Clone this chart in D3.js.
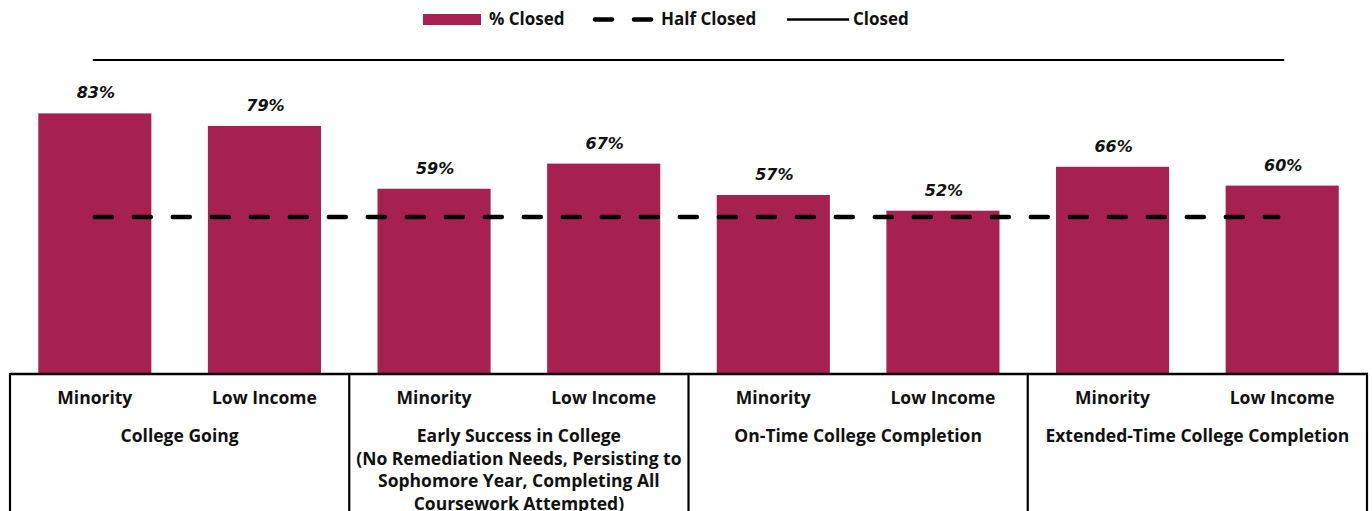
<!DOCTYPE html>
<html><head><meta charset="utf-8">
<script src="https://cdn.jsdelivr.net/npm/d3@7"></script>
<style>body{margin:0;background:#fff}svg{display:block}</style>
</head><body>
<script>
const groups = ["College Going", "Early Success in College\n(No Remediation Needs, Persisting to\nSophomore Year, Completing All\nCoursework Attempted)", "On-Time College Completion", "Extended-Time College Completion"];
const subgroups = ["Minority", "Low Income"];
const pctClosed = [83, 79, 59, 67, 57, 52, 66, 60];
const halfClosed = 50;
const closed = 100;
const legendLabels = ["% Closed", "Half Closed", "Closed"];

const W = 1372, H = 511;
const barColor = "#A6214F";
const svg = d3.select("body").append("svg").attr("width", W).attr("height", H);

const cats = [];
groups.forEach((g, gi) => subgroups.forEach(s => cats.push({g: gi, s, key: gi + "|" + s})));
cats.forEach((c, i) => c.v = pctClosed[i]);

const x = d3.scaleBand().domain(cats.map(c => c.key)).range([10, 1367]).paddingInner(0).paddingOuter(0);
const gx = d3.scaleBand().domain(groups.map((g, i) => i)).range([10, 1367]);
const y = d3.scaleLinear().domain([0, 100]).range([374, 60]);
const bw = x.bandwidth() * 2 / 3;

svg.selectAll("rect.bar").data(cats).join("rect").attr("class", "bar")
  .attr("x", d => x(d.key) + (x.bandwidth() - bw) / 2)
  .attr("width", bw)
  .attr("y", d => y(d.v))
  .attr("height", d => y(0) - y(d.v))
  .attr("fill", barColor);

svg.selectAll("text.val").data(cats).join("text").attr("class", "val")
  .attr("x", d => x(d.key) + x.bandwidth() / 2 + 1)
  .attr("y", d => y(d.v) - 15)
  .attr("text-anchor", "middle")
  .attr("font-family", "DejaVu Sans")
  .attr("font-weight", "bold").attr("font-style", "italic")
  .attr("font-size", 16).attr("fill", "#111")
  .text(d => d.v + "%");

const x0 = x(cats[0].key) + x.bandwidth() / 2;
const x1 = x(cats[cats.length - 1].key) + x.bandwidth() / 2;
svg.append("line").attr("x1", x0).attr("x2", x1 - 4)
  .attr("y1", y(halfClosed)).attr("y2", y(halfClosed))
  .attr("stroke", "#000").attr("stroke-width", 4.5)
  .attr("stroke-dasharray", "17,22").attr("stroke-linecap", "round");
svg.append("line").attr("x1", x0 - 2).attr("x2", x1 + 2)
  .attr("y1", y(closed)).attr("y2", y(closed))
  .attr("stroke", "#000").attr("stroke-width", 2);

const axisG = svg.append("g");
axisG.append("line").attr("x1", 10).attr("x2", 1368).attr("y1", y(0)).attr("y2", y(0))
  .attr("stroke", "#000").attr("stroke-width", 2.5);
const bounds = groups.map((g, i) => gx(i)).concat([1367]);
axisG.selectAll("line.v").data(bounds).join("line").attr("class", "v")
  .attr("x1", d => d).attr("x2", d => d).attr("y1", y(0) - 1).attr("y2", H + 5)
  .attr("stroke", "#000").attr("stroke-width", 2.2);

const font = "'Open Sans', 'Liberation Sans', sans-serif";
const fs = 17.5;
axisG.selectAll("text.cat").data(cats).join("text").attr("class", "cat")
  .attr("x", d => x(d.key) + x.bandwidth() / 2)
  .attr("y", 404)
  .attr("text-anchor", "middle")
  .attr("font-family", font).attr("font-weight", "bold").attr("font-size", fs).attr("fill", "#111")
  .text(d => d.s);

groups.forEach((g, i) => {
  const lines = g.split("\n");
  const t = axisG.append("text").attr("x", gx(i) + gx.bandwidth() / 2).attr("y", 442)
    .attr("text-anchor", "middle")
    .attr("font-family", font).attr("font-weight", "bold").attr("font-size", fs).attr("fill", "#111");
  lines.forEach((l, li) => t.append("tspan").attr("x", gx(i) + gx.bandwidth() / 2).attr("dy", li ? 22.5 : 0).text(l));
});

const lg = svg.append("g").attr("font-family", font).attr("font-weight", "bold").attr("font-size", 17).attr("fill", "#111");
lg.append("rect").attr("x", 423).attr("y", 14).attr("width", 58).attr("height", 11).attr("fill", barColor);
lg.append("text").attr("x", 489).attr("y", 25).text(legendLabels[0]);
lg.append("line").attr("x1", 595).attr("x2", 652).attr("y1", 19.5).attr("y2", 19.5)
  .attr("stroke", "#000").attr("stroke-width", 4.5).attr("stroke-dasharray", "17,22").attr("stroke-linecap", "round");
lg.append("text").attr("x", 661).attr("y", 25).text(legendLabels[1]);
lg.append("line").attr("x1", 787).attr("x2", 849).attr("y1", 19.5).attr("y2", 19.5)
  .attr("stroke", "#000").attr("stroke-width", 2.5);
lg.append("text").attr("x", 853).attr("y", 25).text(legendLabels[2]);
</script>
</body></html>
